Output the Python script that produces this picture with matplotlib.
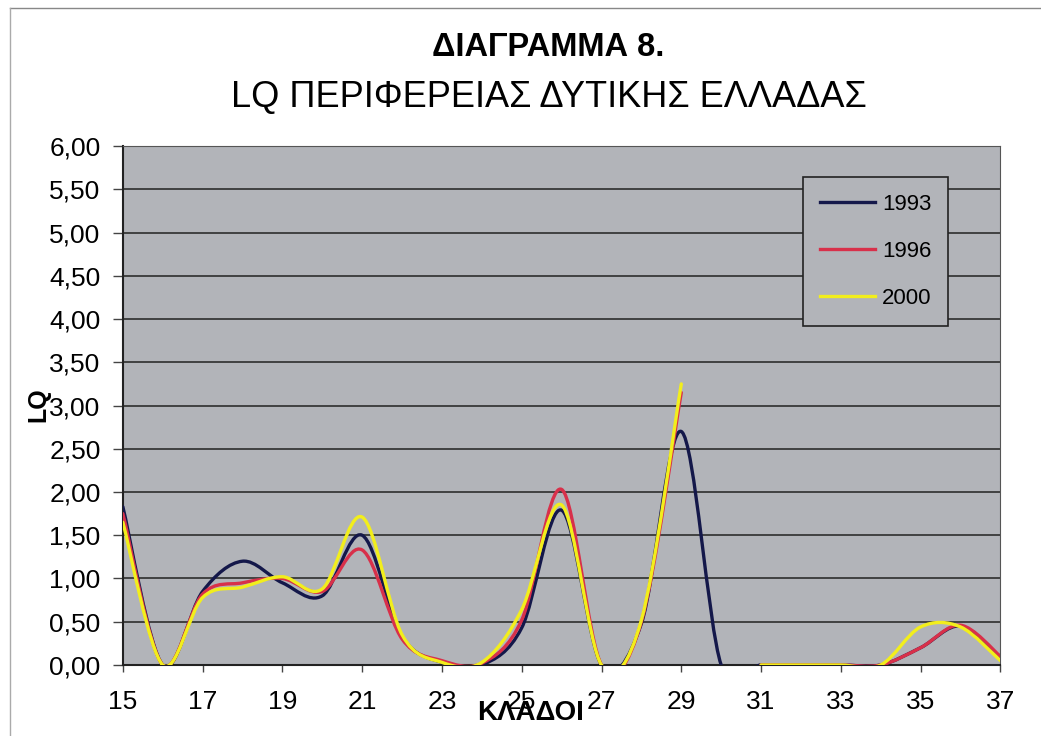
import matplotlib
matplotlib.use('Agg')
import matplotlib.pyplot as plt
from matplotlib.path import Path
from matplotlib.patches import PathPatch
from matplotlib.lines import Line2D
import numpy as np

plt.rcParams['font.family'] = ['Liberation Sans', 'DejaVu Sans']

# sectors (ΚΛΑΔΟΙ) and LQ values per year
sectors = np.arange(15, 38)
nan = np.nan
lq_1993 = [1.83, 0.0, 0.85, 1.20, 0.95, 0.80, 1.50, 0.33, 0.03, 0.00, 0.43, 1.79,
           0.0, 0.48, 2.70, 0.0, 0.0, 0.0, 0.0, 0.0, 0.20, 0.45, 0.08]
lq_1996 = [1.75, 0.0, 0.82, 0.95, 1.00, 0.85, 1.33, 0.30, 0.05, 0.02, 0.52, 2.03,
           0.0, 0.50, 3.15, nan, 0.0, 0.0, 0.0, 0.0, 0.20, 0.46, 0.10]
lq_2000 = [1.65, 0.0, 0.78, 0.90, 1.02, 0.88, 1.71, 0.35, 0.03, 0.03, 0.64, 1.85,
           0.0, 0.52, 3.25, nan, 0.0, 0.0, 0.0, 0.0, 0.44, 0.44, 0.05]
years = ['1993', '1996', '2000']
colors = ['#14184a', '#d8304a', '#f2ee1c']

y_ticks = np.arange(0, 6.01, 0.5)
x_ticks = np.arange(15, 38, 2)


def smooth_path(xs, ys):
    # Excel-style smoothed line: cubic bezier segments through the points
    xs = np.asarray(xs, float)
    ys = np.asarray(ys, float)
    verts, codes = [], []
    ok = ~np.isnan(ys)
    i = 0
    while i < len(ys):
        if not ok[i]:
            i += 1
            continue
        j = i
        while j < len(ys) and ok[j]:
            j += 1
        px, py = xs[i:j], ys[i:j]
        n = len(px)
        if n > 1:
            verts.append((px[0], py[0]))
            codes.append(Path.MOVETO)
            for k in range(n - 1):
                a = k - 1 if k > 0 else k
                b = k + 2 if k + 2 < n else k + 1
                c1 = (px[k] + (px[k + 1] - px[a]) / 6, py[k] + (py[k + 1] - py[a]) / 6)
                c2 = (px[k + 1] - (px[b] - px[k]) / 6, py[k + 1] - (py[b] - py[k]) / 6)
                verts += [c1, c2, (px[k + 1], py[k + 1])]
                codes += [Path.CURVE4] * 3
        i = j
    return Path(verts, codes)


fig = plt.figure(figsize=(10.41, 7.36), dpi=100)
ax = fig.add_axes([0.118, 0.0965, 0.843, 0.705])
ax.set_facecolor('#b2b4b9')

for vals, col in zip([lq_1993, lq_1996, lq_2000], colors):
    ax.add_patch(PathPatch(smooth_path(sectors, vals), fill=False, edgecolor=col,
                           lw=2.4, capstyle='round', joinstyle='round', zorder=3))

ax.set_xlim(15, 37)
ax.set_ylim(0, 6)
ax.set_xticks(x_ticks)
ax.set_xticklabels([str(v) for v in x_ticks], fontsize=19)
ax.set_yticks(y_ticks)
ax.set_yticklabels([f'{v:.2f}'.replace('.', ',') for v in y_ticks], fontsize=19)
ax.tick_params(axis='y', direction='out', length=7, width=1, color='#444444', pad=9)
ax.tick_params(axis='x', direction='out', length=5, width=1, color='#444444', pad=13)
ax.grid(axis='y', color='#383838', lw=1.3)
ax.set_axisbelow(True)
for s in ax.spines.values():
    s.set_color('#555555')
ax.spines['left'].set_color('#222222')
ax.spines['bottom'].set_color('#222222')
ax.spines['left'].set_linewidth(1.5)
ax.spines['bottom'].set_linewidth(1.5)

# axis titles placed as in the scan (ΚΛΑΔΟΙ sits over the tick labels)
fig.text(38 / 1041, 0.45, 'LQ', rotation=90, ha='center', va='center',
         fontsize=18, fontweight='bold')
fig.text(531 / 1041, 1 - 713 / 736, 'ΚΛΑΔΟΙ', ha='center', va='center',
         fontsize=20, fontweight='bold')

fig.text(0.527, 0.936, 'ΔΙΑΓΡΑΜΜΑ 8.', ha='center', va='center', fontsize=23.5,
         fontweight='bold')
fig.text(0.527, 0.868, 'LQ ΠΕΡΙΦΕΡΕΙΑΣ ΔΥΤΙΚΗΣ ΕΛΛΑΔΑΣ', ha='center', va='center',
         fontsize=26)

handles = [Line2D([], [], color=c, lw=2.4) for c in colors]
leg = ax.legend(handles, years, loc='upper left', bbox_to_anchor=(0.7754, 0.940),
                borderaxespad=0, fontsize=16, frameon=True, fancybox=False,
                handlelength=2.5, labelspacing=1.18, borderpad=0.74,
                handletextpad=0.3)
leg.get_frame().set_facecolor('#b2b4b9')
leg.get_frame().set_edgecolor('#222222')
leg.get_frame().set_linewidth(1.2)
leg.get_frame().set_alpha(1)

# chart area border (top and left edges visible in the scan)
fig.add_artist(Line2D([10 / 1041, 1], [1 - 8 / 736, 1 - 8 / 736], color='#888888', lw=1))
fig.add_artist(Line2D([10 / 1041, 10 / 1041], [0, 1 - 8 / 736], color='#aaaaaa', lw=1))

fig.savefig('out.png', dpi=100)
